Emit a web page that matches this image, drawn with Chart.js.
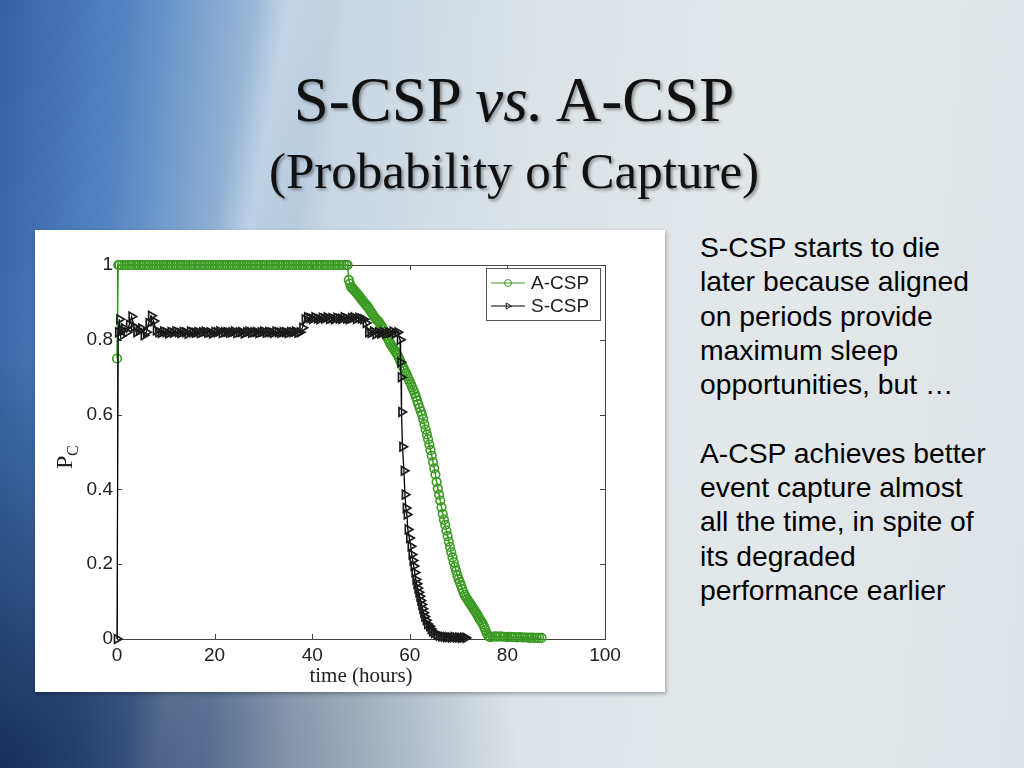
<!DOCTYPE html>
<html>
<head>
<meta charset="utf-8">
<script src="https://cdn.jsdelivr.net/npm/chart.js@4"></script>
<style>
  html, body { margin: 0; padding: 0; }
  body {
    width: 1024px; height: 768px; overflow: hidden; position: relative;
    background:
      radial-gradient(ellipse 520px 420px at 0% 100%, rgba(15,35,75,0.85), rgba(15,35,75,0) 100%),
      linear-gradient(100deg, rgba(255,255,255,0) 22%, rgba(255,255,255,0.3) 25%, rgba(255,255,255,0) 29%),
      linear-gradient(95deg, #3562a2 0%, #5585c2 12%, #92b2d5 22%, #c9d7e3 32%, #dbe3e8 50%, #e3e8ea 75%, #dde3e7 100%);
    font-family: "Liberation Sans", Arial, sans-serif;
  }
  .title {
    position: absolute; left: 0; width: 1024px; text-align: center;
    font-family: "Liberation Serif", "Times New Roman", serif; color: #111;
    text-shadow: 2px 2px 3px rgba(0,0,0,0.35);
  }
  #t1 { top: 64px; font-size: 63px; line-height: 72px; padding-left: 2px; }
  #t2 { top: 141px; font-size: 51px; line-height: 60px; padding-left: 2px; }
  #panel {
    position: absolute; left: 35px; top: 230px; width: 630px; height: 462px;
    background: #fff; box-shadow: 1px 2px 4px rgba(0,0,0,0.3);
  }
  #notes {
    position: absolute; left: 700px; top: 230px; width: 324px;
    font-size: 28.3px; line-height: 34.3px; color: #000;
  }
</style>
</head>
<body>
<div class="title" id="t1">S-CSP <i>vs.</i> A-CSP</div>
<div class="title" id="t2">(Probability of Capture)</div>
<div id="panel"><canvas id="pcChart"></canvas></div>
<div id="notes">
S-CSP starts to die<br>later because aligned<br>on periods provide<br>maximum sleep<br>opportunities, but …<br><br>
A-CSP achieves better<br>event capture almost<br>all the time, in spite of<br>its degraded<br>performance earlier
</div>
<script>
const seriesNames = ['A-CSP', 'S-CSP'];
const xTicks = [0, 20, 40, 60, 80, 100];
const yTicks = [0, 0.2, 0.4, 0.6, 0.8, 1];
const yTickLabels = ['0', '0.2', '0.4', '0.6', '0.8', '1'];

// A-CSP: time (hours) and probability of capture
const acspHours = [
  0, 0.25, 0.5, 1, 1.5, 2, 2.5, 3, 3.5, 4, 4.5, 5, 5.5, 6, 6.5, 7, 7.5, 8, 8.5, 9, 9.5, 10,
  10.5, 11, 11.5, 12, 12.5, 13, 13.5, 14, 14.5, 15, 15.5, 16, 16.5, 17, 17.5, 18, 18.5, 19, 19.5, 20,
  20.5, 21, 21.5, 22, 22.5, 23, 23.5, 24, 24.5, 25, 25.5, 26, 26.5, 27, 27.5, 28, 28.5, 29, 29.5, 30,
  30.5, 31, 31.5, 32, 32.5, 33, 33.5, 34, 34.5, 35, 35.5, 36, 36.5, 37, 37.5, 38, 38.5, 39, 39.5, 40,
  40.5, 41, 41.5, 42, 42.5, 43, 43.5, 44, 44.5, 45, 45.5, 46, 46.5, 47, 47.25,
  47.5, 47.75, 48, 48.25, 48.5, 48.75, 49, 49.25, 49.5, 49.75, 50, 50.25, 50.5, 50.75, 51, 51.25, 51.5, 51.75,
  52, 52.25, 52.5, 52.75, 53, 53.25, 53.5, 53.75, 54, 54.25, 54.5, 54.75, 55, 55.25, 55.5, 55.75,
  56, 56.25, 56.5, 56.75, 57, 57.25, 57.5, 57.75, 58, 58.25, 58.5, 58.75, 59, 59.25, 59.5, 59.75,
  60, 60.25, 60.5, 60.75, 61, 61.25, 61.5, 61.75, 62, 62.25, 62.5, 62.75, 63, 63.25, 63.5, 63.75,
  64, 64.25, 64.5, 64.75, 65, 65.25, 65.5, 65.75, 66, 66.25, 66.5, 66.75, 67, 67.25, 67.5, 67.75,
  68, 68.25, 68.5, 68.75, 69, 69.25, 69.5, 69.75, 70, 70.25, 70.5, 70.75, 71, 71.25, 71.5, 71.75,
  72, 72.25, 72.5, 72.75, 73, 73.25, 73.5, 73.75, 74, 74.25, 74.5, 74.75, 75, 75.25, 75.5, 75.75,
  76, 76.25, 76.5, 77, 77.5, 78, 78.5, 79, 79.5, 80, 80.5, 81, 81.5, 82, 82.5, 83, 83.5, 84, 84.5,
  85, 85.5, 86, 86.5, 87
];
const acspPc = [
  0.75, 1, 1, 1, 1, 1, 1, 1, 1, 1, 1, 1, 1, 1, 1, 1, 1, 1, 1, 1, 1, 1,
  1, 1, 1, 1, 1, 1, 1, 1, 1, 1, 1, 1, 1, 1, 1, 1, 1, 1, 1, 1,
  1, 1, 1, 1, 1, 1, 1, 1, 1, 1, 1, 1, 1, 1, 1, 1, 1, 1, 1, 1,
  1, 1, 1, 1, 1, 1, 1, 1, 1, 1, 1, 1, 1, 1, 1, 1, 1, 1, 1, 1,
  1, 1, 1, 1, 1, 1, 1, 1, 1, 1, 1, 1, 1, 1, 1,
  0.96, 0.95, 0.94, 0.938, 0.934, 0.93, 0.927, 0.923, 0.919, 0.915, 0.91, 0.906, 0.902, 0.898, 0.894, 0.89, 0.886, 0.881,
  0.876, 0.871, 0.866, 0.861, 0.857, 0.853, 0.85, 0.846, 0.84, 0.835, 0.829, 0.822, 0.815, 0.81, 0.803, 0.797,
  0.79, 0.785, 0.78, 0.775, 0.77, 0.765, 0.76, 0.752, 0.745, 0.738, 0.73, 0.724, 0.717, 0.71, 0.703, 0.695,
  0.688, 0.681, 0.673, 0.665, 0.657, 0.648, 0.638, 0.628, 0.618, 0.609, 0.6, 0.588, 0.574, 0.56, 0.547, 0.534,
  0.52, 0.505, 0.49, 0.473, 0.456, 0.44, 0.42, 0.402, 0.386, 0.37, 0.352, 0.334, 0.319, 0.305, 0.29, 0.275,
  0.26, 0.246, 0.232, 0.218, 0.205, 0.193, 0.182, 0.17, 0.16, 0.152, 0.144, 0.134, 0.125, 0.118, 0.112, 0.107,
  0.102, 0.097, 0.092, 0.087, 0.082, 0.077, 0.072, 0.067, 0.061, 0.055, 0.05, 0.045, 0.039, 0.032, 0.024, 0.016,
  0.01, 0.006, 0.005, 0.006, 0.007, 0.006, 0.007, 0.006, 0.006, 0.005, 0.006, 0.005, 0.005, 0.004, 0.005, 0.004, 0.004, 0.004, 0.003,
  0.004, 0.003, 0.003, 0.003, 0.003
];

// S-CSP: time (hours) and probability of capture
const scspHours = [
  0, 0.25, 0.5, 0.75, 1, 1.5, 2, 2.5, 3, 3.5, 4, 4.5, 5, 5.5, 6, 6.5, 7, 7.5, 8,
  8.5, 9, 9.5, 10, 10.5, 11, 11.5, 12, 12.5, 13, 13.5, 14, 14.5, 15, 15.5, 16, 16.5, 17, 17.5, 18,
  18.5, 19, 19.5, 20, 20.5, 21, 21.5, 22, 22.5, 23, 23.5, 24, 24.5, 25, 25.5, 26, 26.5, 27, 27.5, 28,
  28.5, 29, 29.5, 30, 30.5, 31, 31.5, 32, 32.5, 33, 33.5, 34, 34.5, 35, 35.5, 36, 36.5, 37, 37.5, 38,
  38.5, 39, 39.5, 40, 40.5, 41, 41.5, 42, 42.5, 43, 43.5, 44, 44.5, 45, 45.5, 46, 46.5, 47, 47.5, 48,
  48.5, 49, 49.5, 50, 50.5, 51, 51.5, 52, 52.5, 53, 53.5, 54, 54.5, 55, 55.5, 56, 56.5, 57, 57.5, 58,
  58.1, 58.2, 58.3, 58.5, 58.8, 59, 59.2, 59.4, 59.6, 59.9, 60.2, 60.4, 60.6, 60.8, 61, 61.2, 61.4, 61.6, 61.8,
  62, 62.2, 62.4, 62.6, 62.8, 63, 63.3, 63.6, 64, 64.3, 64.6, 65, 65.5, 66, 66.5, 67, 67.5, 68, 68.5,
  69, 69.5, 70, 70.5, 71, 71.5, 72
];
const scspPc = [
  0, 0.82, 0.855, 0.81, 0.825, 0.83, 0.82, 0.84, 0.862, 0.835, 0.82, 0.825, 0.83, 0.812, 0.82, 0.845, 0.864, 0.85, 0.825,
  0.82, 0.818, 0.822, 0.82, 0.817, 0.821, 0.819, 0.823, 0.82, 0.818, 0.821, 0.82, 0.816, 0.822, 0.82, 0.819, 0.821, 0.818, 0.82,
  0.822, 0.819, 0.82, 0.817, 0.821, 0.82, 0.823, 0.818, 0.82, 0.821, 0.819, 0.82, 0.822, 0.818, 0.82, 0.821, 0.817, 0.82, 0.822, 0.819,
  0.82, 0.821, 0.818, 0.82, 0.822, 0.819, 0.821, 0.82, 0.818, 0.822, 0.82, 0.819, 0.821, 0.82, 0.818, 0.821, 0.82, 0.822, 0.819, 0.82,
  0.832, 0.855, 0.86, 0.858, 0.856, 0.86, 0.857, 0.855, 0.859, 0.857, 0.86, 0.856, 0.858, 0.855, 0.859, 0.857, 0.856, 0.86, 0.857, 0.855,
  0.858, 0.86, 0.856, 0.859, 0.857, 0.855, 0.845, 0.82, 0.818, 0.822, 0.815, 0.82, 0.817, 0.821, 0.816, 0.82, 0.818, 0.822, 0.817, 0.82,
  0.8, 0.74, 0.7, 0.607, 0.514, 0.45, 0.386, 0.35, 0.333, 0.293, 0.27, 0.248, 0.226, 0.21, 0.195, 0.178, 0.159, 0.148, 0.136,
  0.125, 0.114, 0.103, 0.092, 0.081, 0.07, 0.06, 0.05, 0.04, 0.034, 0.027, 0.02, 0.016, 0.012, 0.009, 0.007, 0.006, 0.005, 0.005,
  0.004, 0.005, 0.004, 0.004, 0.003, 0.004, 0.003
];

const acspColor = '#3a9a22';
const scspColor = '#000';

function toPoints(xs, ys) {
  return xs.map((x, i) => ({ x: x, y: ys[i] }));
}

// box round the plot with MATLAB-style inward ticks, the P_C label and the legend
const matlabFrame = {
  id: 'matlabFrame',
  beforeDatasetsDraw(chart) {
    const c = chart.ctx;
    const a = chart.chartArea;
    const xs = chart.scales.x, ys = chart.scales.y;
    c.save();
    c.strokeStyle = '#444';
    c.lineWidth = 1;
    c.strokeRect(a.left + 0.5, a.top + 0.5, a.right - a.left, a.bottom - a.top);
    c.beginPath();
    xTicks.forEach(v => {
      const px = Math.round(xs.getPixelForValue(v)) + 0.5;
      c.moveTo(px, a.bottom); c.lineTo(px, a.bottom - 5);
      c.moveTo(px, a.top); c.lineTo(px, a.top + 5);
    });
    yTicks.forEach(v => {
      const py = Math.round(ys.getPixelForValue(v)) + 0.5;
      c.moveTo(a.left, py); c.lineTo(a.left + 5, py);
      c.moveTo(a.right, py); c.lineTo(a.right - 5, py);
    });
    c.stroke();

    // y label P with subscript C
    c.fillStyle = '#222';
    c.translate(a.left - 53, (a.top + a.bottom) / 2 + 6);
    c.rotate(-Math.PI / 2);
    c.textBaseline = 'alphabetic';
    c.font = '24px "Liberation Serif", serif';
    c.fillText('P', -11, 8);
    c.font = '16px "Liberation Serif", serif';
    c.fillText('C', 2, 14);
    c.restore();
  },
  afterDraw(chart) {
    const c = chart.ctx;
    const a = chart.chartArea;
    // legend inside the top right corner
    c.save();
    const bx = a.right - 119, by = a.top + 3, bw = 114, bh = 52;
    c.fillStyle = '#fff';
    c.fillRect(bx, by, bw, bh);
    c.strokeStyle = '#555';
    c.lineWidth = 1;
    c.strokeRect(bx + 0.5, by + 0.5, bw, bh);
    chart.data.datasets.forEach((ds, i) => {
      const cy = by + 15 + i * 23;
      c.strokeStyle = ds.borderColor;
      c.lineWidth = 1;
      c.beginPath();
      c.moveTo(bx + 5, cy); c.lineTo(bx + 39, cy);
      c.stroke();
      c.strokeStyle = ds.pointBorderColor;
      c.fillStyle = 'rgba(255,255,255,0)';
      Chart.helpers.drawPoint(c, {
        pointStyle: ds.pointStyle, rotation: ds.pointRotation || 0,
        radius: 3.5, borderWidth: 1
      }, bx + 22, cy);
      c.fillStyle = '#222';
      c.font = '19px "Liberation Sans", Arial, sans-serif';
      c.textBaseline = 'middle';
      c.fillText(ds.label, bx + 45, cy + 1);
    });
    c.restore();
  }
};

new Chart(document.getElementById('pcChart'), {
  type: 'line',
  data: {
    datasets: [
      {
        label: seriesNames[0],
        data: toPoints(acspHours, acspPc),
        borderColor: acspColor,
        borderWidth: 1.5,
        pointStyle: 'circle',
        pointRadius: 4.3,
        pointBorderWidth: 1.6,
        pointBorderColor: acspColor,
        pointBackgroundColor: 'rgba(255,255,255,0)',
        clip: false,
        order: 1
      },
      {
        label: seriesNames[1],
        data: toPoints(scspHours, scspPc),
        borderColor: scspColor,
        borderWidth: 1.3,
        pointStyle: 'triangle',
        pointRotation: 90,
        pointRadius: 5,
        pointBorderWidth: 1.7,
        pointBorderColor: '#1a1a1a',
        pointBackgroundColor: 'rgba(255,255,255,0)',
        clip: false,
        order: 0
      }
    ]
  },
  options: {
    responsive: true,
    maintainAspectRatio: false,
    animation: false,
    layout: { padding: { left: 0, top: 35, right: 60, bottom: 0 } },
    plugins: { legend: { display: false }, tooltip: { enabled: false } },
    scales: {
      x: {
        type: 'linear', min: 0, max: 100,
        grid: { display: false, drawTicks: false },
        border: { display: false },
        afterBuildTicks: s => { s.ticks = xTicks.map(v => ({ value: v })); },
        afterFit: s => { s.height = 53; },
        ticks: { color: '#222', padding: 5, maxRotation: 0, font: { size: 19, family: '"Liberation Sans", Arial' } },
        title: {
          display: true, text: 'time (hours)', color: '#222',
          font: { size: 21, family: '"Liberation Serif", serif' },
          padding: { top: 0, bottom: 3 }
        }
      },
      y: {
        type: 'linear', min: 0, max: 1,
        grid: { display: false, drawTicks: false },
        border: { display: false },
        afterBuildTicks: s => { s.ticks = yTicks.map(v => ({ value: v })); },
        afterFit: s => { s.width = 82; },
        ticks: {
          color: '#222', padding: 4,
          font: { size: 19, family: '"Liberation Sans", Arial' },
          callback: v => yTickLabels[yTicks.indexOf(v)]
        }
      }
    }
  },
  plugins: [matlabFrame]
});
</script>
</body>
</html>
